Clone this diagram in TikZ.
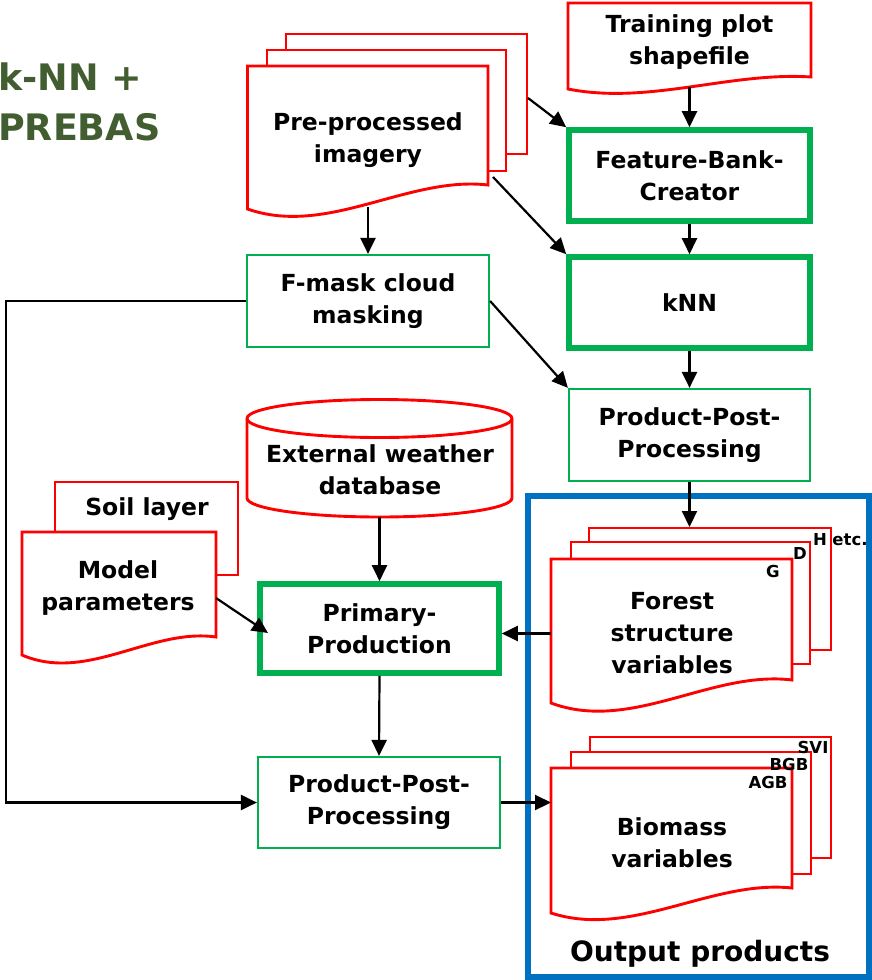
\documentclass[tikz,border=0pt]{standalone}
\usepackage{fontspec}
\setmainfont{DejaVu Sans}
\usetikzlibrary{arrows.meta}

\definecolor{docred}{RGB}{255,0,0}
\definecolor{procgreen}{RGB}{0,176,80}
\definecolor{outblue}{RGB}{0,112,192}
\definecolor{titlegreen}{RGB}{66,94,48}

\newcommand\mainlbl{\fontsize{23.5}{32}\selectfont\bfseries}
\newcommand\taglbl{\fontsize{16.5}{18}\selectfont\bfseries}

\tikzset{
  docline/.style={draw=docred, line width=2.9pt, fill=white, line join=miter},
  thinproc/.style={draw=procgreen, line width=2.2pt, fill=white, inner sep=0pt,
    align=center, font=\mainlbl},
  thickproc/.style={draw=procgreen, line width=5.6pt, fill=white, inner sep=0pt,
    align=center, font=\mainlbl},
  outbox/.style={draw=outblue, line width=6pt, inner sep=0pt},
  lbl/.style={align=center, font=\mainlbl, inner sep=0pt},
  tag/.style={font=\taglbl, inner sep=0pt},
  titletext/.style={font=\fontsize{36.5}{44}\selectfont\bfseries, text=titlegreen, inner sep=0pt},
  flow/.style={draw=black, line width=2.2pt, -{Triangle[length=16pt,width=15pt]}}
}

% document sheet with a wavy lower edge: left, top, right, right-bottom, left-bottom, wave depth
\newcommand\drawdocsheet[6]{%
  \pgfmathsetmacro\dsa{#3-(#3-#1)/3}%
  \pgfmathsetmacro\dsb{#1+(#3-#1)/3}%
  \pgfmathsetmacro\dsc{#4-#6/3}%
  \pgfmathsetmacro\dsd{#5+#6}%
  \path[docline] (#1,#2) -- (#3,#2) -- (#3,#4)
    .. controls (\dsa,\dsc) and (\dsb,\dsd) .. (#1,#5) -- cycle;
}
% plain sheet lying behind a document
\newcommand\drawbacksheet[4]{%
  \path[docline] (#1,#2) rectangle (#3,#4);
}

\begin{document}
\begin{tikzpicture}[x=1pt,y=-1pt]
\useasboundingbox (0,0) rectangle (872,980);

% title
\node[titletext, anchor=base west] (ttlA) at (-2,90) {k-NN +};
\node[titletext, anchor=base west] (ttlB) at (-2,140) {PREBAS};

% output container
\node[outbox, minimum width=341pt, minimum height=481pt] (outp) at (698,736) {};
\node[font=\fontsize{28}{32}\selectfont\bfseries, inner sep=0pt] (outlbl) at (700,954) {Output products};

% pre-processed imagery stack
\drawbacksheet{286}{34}{527}{154}
\drawbacksheet{267}{50}{506}{171}
\drawdocsheet{247.5}{66}{488}{185}{209}{28}
\node[lbl] (preimg) at (368,140) {Pre-processed\\imagery};

% training plot shapefile
\drawdocsheet{568}{3}{811}{77}{89}{16}
\node[lbl] (trainshp) at (689.5,42) {Training plot\\shapefile};

% processing steps
\node[thickproc, minimum width=241pt, minimum height=91pt] (fb) at (689.5,175.5) {Feature-Bank-\\Creator};
\node[thickproc, minimum width=241pt, minimum height=91pt] (knn) at (689.5,302.5) {kNN};
\node[thinproc, minimum width=242pt, minimum height=92pt] (fmask) at (368,301) {F-mask cloud\\masking};
\node[thinproc, minimum width=241pt, minimum height=92pt] (ppp1) at (689.5,435) {Product-Post-\\Processing};
\node[thickproc, minimum width=239pt, minimum height=89pt] (prim) at (379.5,628.5) {Primary-\\Production};
\node[thinproc, minimum width=242pt, minimum height=91pt] (ppp2) at (379,802.5) {Product-Post-\\Processing};

% external weather database
\path[docline] (247,418.5) -- (247,498)
  arc[start angle=180, end angle=0, x radius=132.5, y radius=19] -- (512,418.5)
  arc[start angle=0, end angle=-180, x radius=132.5, y radius=19] -- cycle;
\draw[docred, line width=2.9pt] (247,418.5)
  arc[start angle=180, end angle=0, x radius=132.5, y radius=19];
\node[lbl] (wdb) at (380,470) {External weather\\database};

% soil layer and model parameters
\drawbacksheet{55}{482}{238}{575}
\node[lbl] (soil) at (147,509) {Soil layer};
\drawdocsheet{22}{532}{216}{637}{655}{28}
\node[lbl] (model) at (118,588) {Model\\parameters};

% forest structure variables stack
\drawbacksheet{589}{528}{831}{650}
\drawbacksheet{571}{542}{810}{664}
\drawdocsheet{551}{559}{792}{680}{703}{30}
\node[lbl] (forest) at (672,633) {Forest\\structure\\variables};
\node[tag] (tagG) at (773,571) {G};
\node[tag] (tagD) at (800,553) {D};
\node[tag] (tagH) at (820,539) {H};
\node[tag] (tagEtc) at (850,540) {etc.};

% biomass variables stack
\drawbacksheet{590}{737}{831}{858}
\drawbacksheet{571}{752}{811}{874}
\drawdocsheet{551}{768}{792}{888}{913}{26}
\node[lbl] (biomass) at (672,843) {Biomass\\variables};
\node[tag] (tagSVI) at (813,747) {SVI};
\node[tag] (tagBGB) at (789,764) {BGB};
\node[tag] (tagAGB) at (768,782) {AGB};

% connector end points on the sheets
\coordinate (trainout) at (689.5,87);
\coordinate (preback) at (528,98);
\coordinate (premid) at (493,177);
\coordinate (preout) at (368,207);
\coordinate (wdbout) at (379.5,517);
\coordinate (modelout) at (216,598);
\coordinate (primin) at (268,633);
\coordinate (forestin) at (551,633.5);
\coordinate (foresttop) at (689.5,527);
\coordinate (bioleft) at (551,802.5);
\coordinate (rail) at (6,0);

% connectors
\draw[flow] (trainout) -- (fb.north);
\draw[flow] (fb.south) -- (knn.north);
\draw[flow] (knn.south) -- (ppp1.north);
\draw[flow] (ppp1.south) -- (foresttop);
\draw[flow] (preback) -- (fb.north west);
\draw[flow] (premid) -- (knn.north west);
\draw[flow] (preout) -- (fmask.north);
\draw[flow] (fmask.east) -- (ppp1.north west);
\draw[flow] (fmask.west) -- (fmask.west -| rail) |- (ppp2.west);
\draw[flow] (wdbout) -- (prim.north);
\draw[flow] (modelout) -- (primin);
\draw[flow] (forestin) -- (forestin -| prim.east);
\draw[flow] (prim.south) -- (ppp2.north);
\draw[flow] (ppp2.east) -- (bioleft);
\end{tikzpicture}
\end{document}
